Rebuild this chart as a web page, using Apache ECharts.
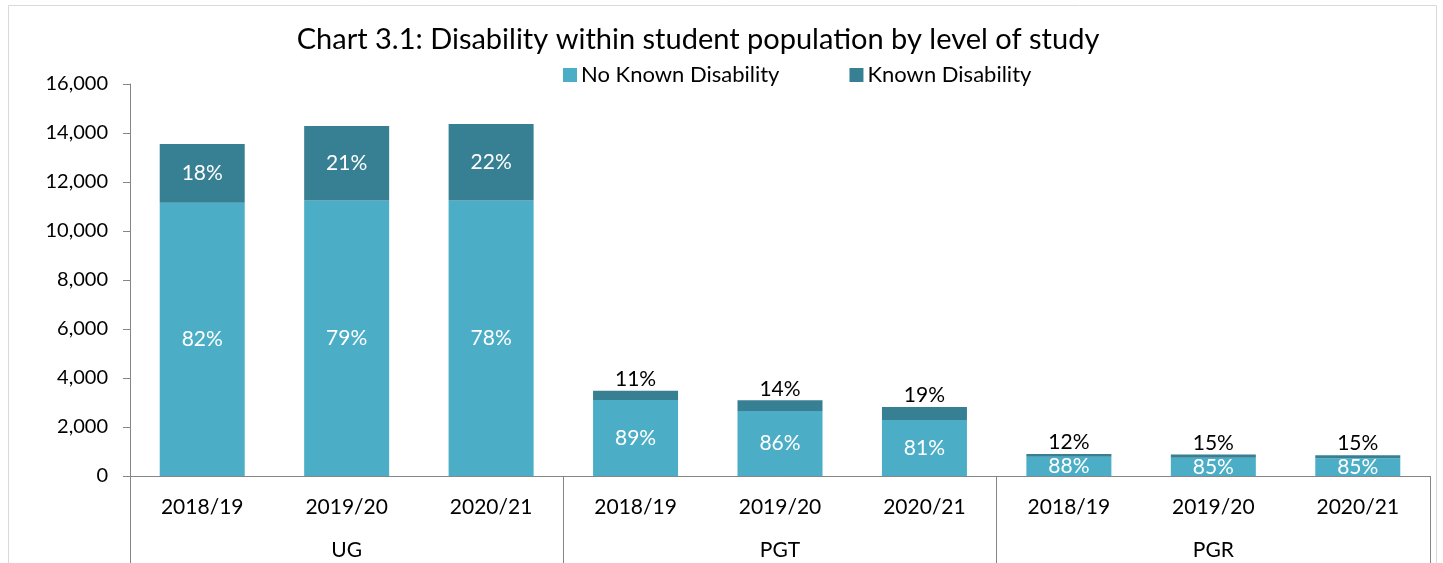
<!DOCTYPE html>
<html>
<head>
<meta charset="utf-8">
<script src="https://cdn.jsdelivr.net/npm/echarts@6/dist/echarts.min.js"></script>
<style>
html,body{margin:0;padding:0;background:#fff;}
#chart{width:1443px;height:563px;}
</style>
</head>
<body>
<div id="chart"></div>
<script>
const categories = ['2018/19','2019/20','2020/21','2018/19','2019/20','2020/21','2018/19','2019/20','2020/21'];
const groups = ['UG','PGT','PGR'];
const noKnown = [11150, 11250, 11250, 3100, 2650, 2290, 790, 750, 720];
const known = [2400, 3040, 3120, 380, 440, 530, 110, 130, 130];
const noKnownPct = ['82%','79%','78%','89%','86%','81%','88%','85%','85%'];
const knownPct = ['18%','21%','22%','11%','14%','19%','12%','15%','15%'];
const yTicks = [0, 2000, 4000, 6000, 8000, 10000, 12000, 14000, 16000];

const FONT = 'Lato';
const LIGHT = '#4BAEC6';
const DARK = '#377F93';

const chart = echarts.init(document.getElementById('chart'));
const knownData = known.map((v, i) => ({
  value: v,
  label: i < 3
    ? { position: 'inside', color: '#fff' }
    : { position: 'top', color: '#000', distance: 1 }
}));

chart.setOption({
  animation: false,
  textStyle: { fontFamily: FONT },
  graphic: [{
    type: 'rect', shape: { x: 8.5, y: 5.5, width: 1428, height: 570 },
    style: { fill: 'none', stroke: '#d9d9d9', lineWidth: 1 }, silent: true
  }],
  title: {
    text: 'Chart 3.1: Disability within student population by level of study',
    left: 693, top: 20, textAlign: 'center',
    textStyle: { fontFamily: FONT, fontSize: 29, fontWeight: 'normal', color: '#000' }
  },
  legend: {
    left: 558, top: 59, icon: 'rect', itemWidth: 14, itemHeight: 14, itemGap: 70,
    textStyle: { fontFamily: FONT, fontSize: 22, color: '#000', padding: [0, 0, 0, -1] },
    data: ['No Known Disability', 'Known Disability']
  },
  grid: { left: 130, right: 13, top: 84, bottom: 87, containLabel: false },
  xAxis: [{
    type: 'category', data: categories,
    axisLine: { show: true, lineStyle: { color: '#868686', width: 1 } },
    axisTick: { show: false },
    axisLabel: { fontFamily: FONT, fontSize: 21, color: '#000', margin: 21, interval: 0 }
  }, {
    type: 'category', data: groups, position: 'bottom',
    axisLine: { show: false },
    axisTick: { show: true, length: 90, lineStyle: { color: '#868686', width: 1 } },
    axisLabel: { fontFamily: FONT, fontSize: 21, color: '#000', margin: 64, interval: 0 }
  }],
  yAxis: {
    type: 'value', min: yTicks[0], max: yTicks[yTicks.length - 1], interval: 2000,
    splitLine: { show: false },
    axisLine: { show: true, lineStyle: { color: '#868686', width: 1 } },
    axisTick: { show: true, length: 7, lineStyle: { color: '#868686' } },
    axisLabel: {
      fontFamily: FONT, fontSize: 20, color: '#000', margin: 22,
      formatter: v => v.toLocaleString('en-US')
    }
  },
  series: [{
    name: 'No Known Disability', type: 'bar', stack: 'total', xAxisIndex: 0,
    data: noKnown, barWidth: 85,
    itemStyle: { color: LIGHT },
    label: {
      show: true, position: 'inside', color: '#fff', fontFamily: FONT, fontSize: 21,
      formatter: p => noKnownPct[p.dataIndex]
    }
  }, {
    name: 'Known Disability', type: 'bar', stack: 'total', xAxisIndex: 0,
    data: knownData, barWidth: 85,
    itemStyle: { color: DARK },
    label: {
      show: true, fontFamily: FONT, fontSize: 21,
      formatter: p => knownPct[p.dataIndex]
    }
  }]
});
</script>
</body>
</html>
